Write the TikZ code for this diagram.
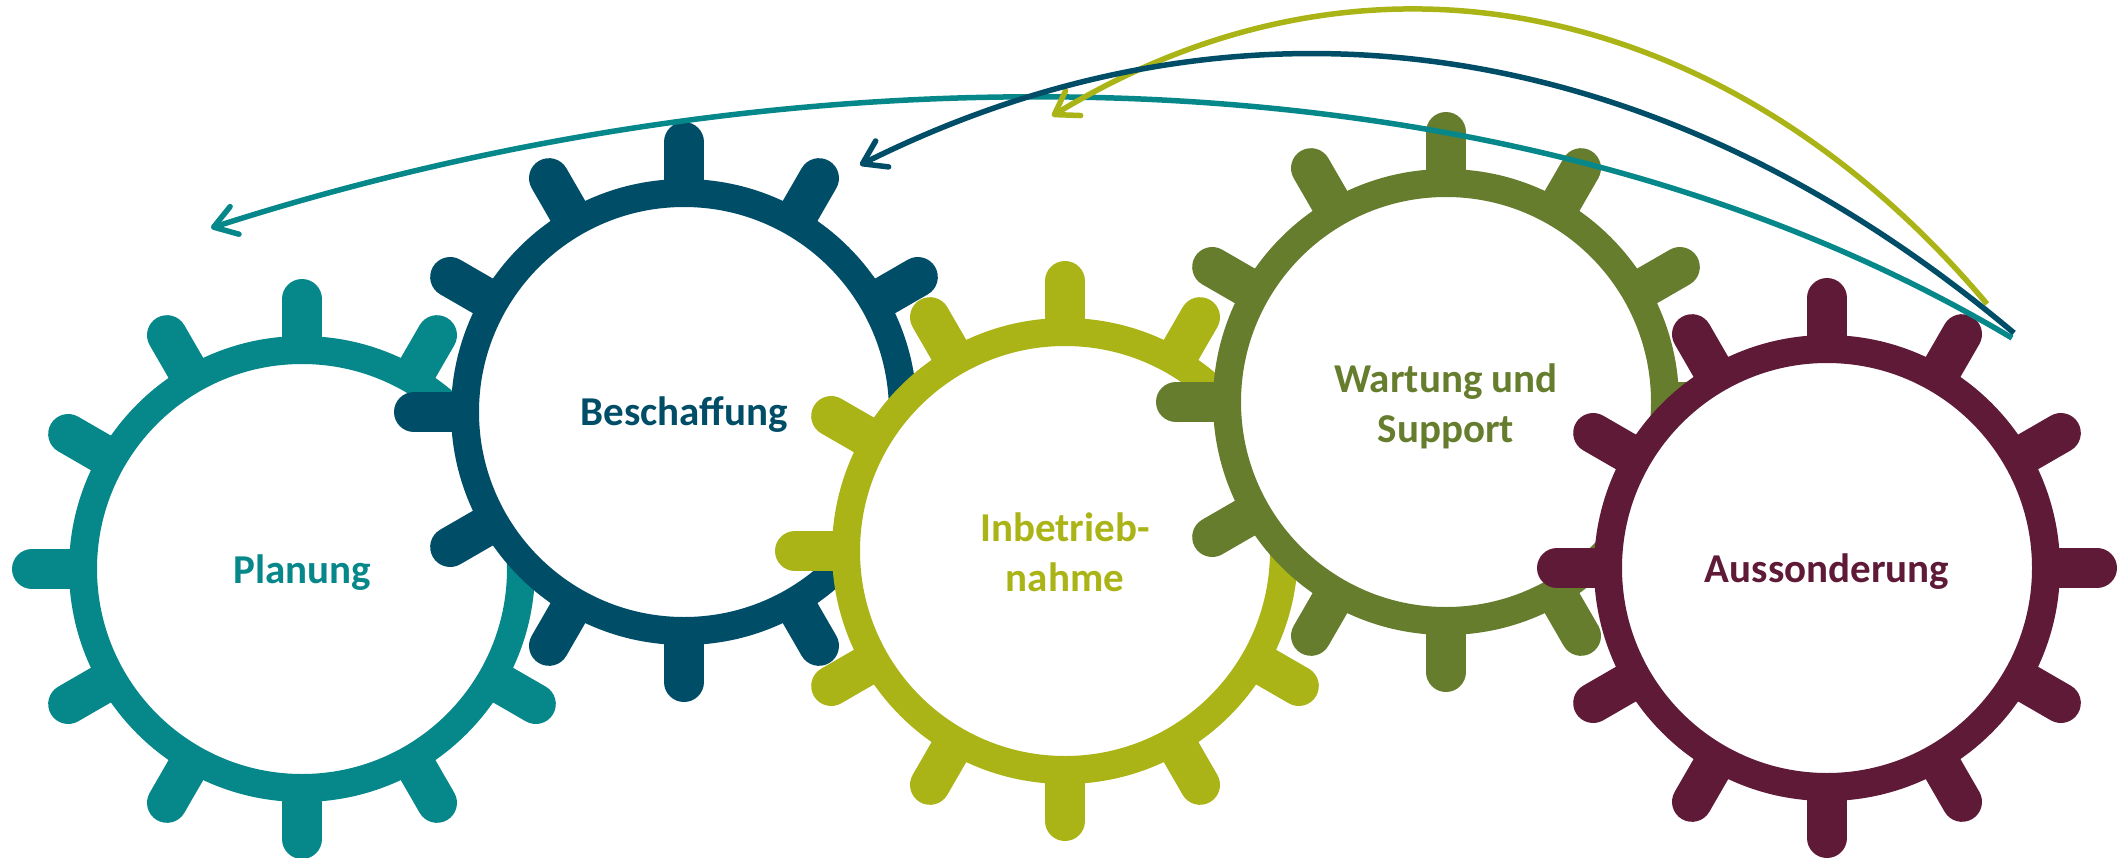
\documentclass[tikz,border=0pt]{standalone}
\usepackage{fontspec}
\setmainfont{Carlito}
\usetikzlibrary{arrows.meta}
\definecolor{cteal}{HTML}{06878A}
\definecolor{cblue}{HTML}{004D67}
\definecolor{cyellow}{HTML}{AAB416}
\definecolor{colive}{HTML}{667D2E}
\definecolor{cmaroon}{HTML}{5F1A37}
\tikzset{
  gtooth/.style={line width=40pt, line cap=round},
  gring/.style={line width=28pt, fill=white},
  gearlabel/.style={font=\fontsize{41}{50}\selectfont\bfseries, align=center, inner sep=0pt},
  cycarrow/.style={line width=5.5pt, line cap=butt, -{Straight Barb[length=22pt,width=29pt,round]}}
}
\newcommand\drawgear[3]{%
  \begin{scope}[shift={(#1,#2)}]
    \foreach \a in {0,30,...,330} \draw[gtooth,#3] (\a:215pt) -- (\a:270pt);
    \draw[gring,draw=#3] (0,0) circle[radius=219pt];
  \end{scope}}
\begin{document}
\begin{tikzpicture}[x=1pt,y=-1pt]
\useasboundingbox (0,0) rectangle (2118,857);
% gears (later ones on top)
\drawgear{302}{569}{cteal}
\drawgear{684}{412}{cblue}
\drawgear{1065}{551}{cyellow}
\drawgear{1446}{402}{colive}
\drawgear{1827}{568}{cmaroon}
% labels (base = baseline of the last line)
\node[gearlabel,text=cteal,anchor=base] (planung) at (302,583) {Planung};
\node[gearlabel,text=cblue,anchor=base] (beschaffung) at (684,425) {Beschaffung};
\node[gearlabel,text=cyellow,anchor=base] (inbetriebnahme) at (1065,591) {Inbetrieb-\\nahme};
\node[gearlabel,text=colive,anchor=base] (wartung) at (1446,442) {Wartung und\\Support};
\node[gearlabel,text=cmaroon,anchor=base] (aussonderung) at (1827,582) {Aussonderung};
% arrow end points
\coordinate (tealS) at (2012,338);
\coordinate (tealE) at (211,228);
\coordinate (blueS) at (2014,333);
\coordinate (blueE) at (860,165);
\coordinate (yellowS) at (1987,304);
\coordinate (yellowE) at (1052,116);
% arrows
\draw[cycarrow,cteal] (tealS) .. controls (1496,31) and (782,44) .. (tealE);
\draw[cycarrow,cyellow] (yellowS) .. controls (1739,9) and (1381,-84) .. (yellowE);
\draw[cycarrow,cblue] (blueS) .. controls (1631,11) and (1218,-14) .. (blueE);
\end{tikzpicture}
\end{document}
